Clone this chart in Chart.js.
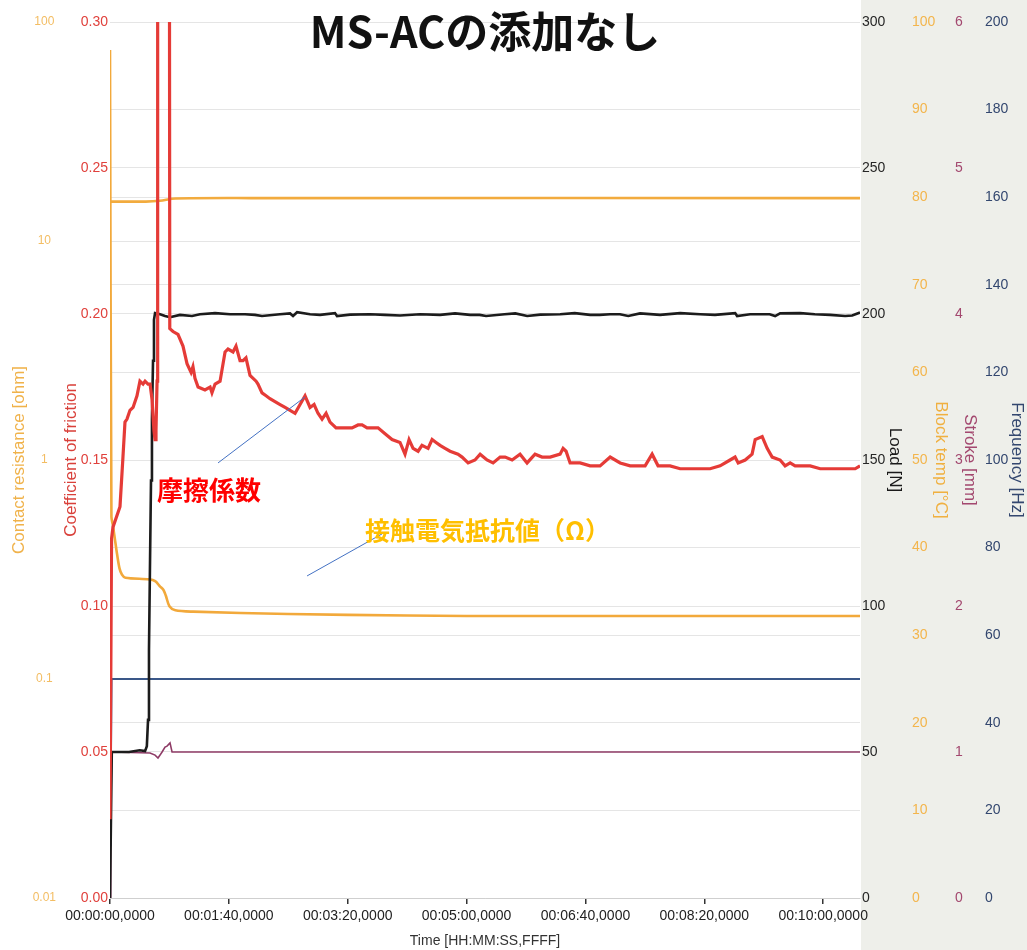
<!DOCTYPE html>
<html>
<head>
<meta charset="utf-8">
<script src="https://cdn.jsdelivr.net/npm/chart.js@4.4.1/dist/chart.umd.min.js"></script>
<style>
  html, body { margin: 0; padding: 0; background: #ffffff; }
  #wrap { position: relative; width: 1027px; height: 950px; }
  canvas { display: block; }
</style>
</head>
<body>
<div id="wrap"><canvas id="chart" width="1027" height="950"></canvas></div>
<script>
// ---- time axis (seconds) ----
const timeTicks = [0, 100, 200, 300, 400, 500, 600];
const timeMax = 631;

// ---- axis tick values ----
const frictionTicks = [0, 0.05, 0.10, 0.15, 0.20, 0.25, 0.30];
const resistanceTicks = [0.01, 0.1, 1, 10, 100];
const loadTicks = [0, 50, 100, 150, 200, 250, 300];
const tempTicks = [0, 10, 20, 30, 40, 50, 60, 70, 80, 90, 100];
const strokeTicks = [0, 1, 2, 3, 4, 5, 6];
const freqTicks = [0, 20, 40, 60, 80, 100, 120, 140, 160, 180, 200];

// ---- measured series: [time s, value] ----
const friction = [
  [0, 0.027], [1.3, 0.123], [2.5, 0.127], [5.0, 0.130], [8.4, 0.134], [10.9, 0.151],
  [12.6, 0.163], [14.3, 0.164], [16.8, 0.167], [19.4, 0.168], [22.7, 0.172], [25.2, 0.177],
  [27.8, 0.176], [29.5, 0.177], [32.0, 0.176], [33.7, 0.176], [35.3, 0.171], [37.0, 0.160],
  [37.9, 0.157], [38.7, 0.160], [39.6, 0.177], [40.1, 0.60], [49.4, 0.60], [50.3, 0.195],
  [53.0, 0.194], [57.2, 0.193], [61.4, 0.189], [64.8, 0.183], [68.2, 0.180], [69.8, 0.182],
  [71.5, 0.178], [74.1, 0.175], [79.9, 0.174], [84.2, 0.175], [85.8, 0.173], [88.4, 0.176],
  [92.6, 0.177], [96.8, 0.187], [99.3, 0.188], [103.5, 0.187], [106.0, 0.189], [109.4, 0.184],
  [111.9, 0.184], [114.4, 0.185], [117.8, 0.179], [122.9, 0.177], [124.5, 0.176], [127.9, 0.173],
  [131.3, 0.172], [134.6, 0.171], [138.8, 0.170], [143.1, 0.169], [147.3, 0.168], [151.5, 0.167],
  [155.7, 0.166], [159.9, 0.169], [164.1, 0.172], [168.3, 0.168], [171.7, 0.169], [175.0, 0.166],
  [178.4, 0.164], [181.8, 0.166], [185.1, 0.163], [190.2, 0.161], [193.5, 0.161], [197.8, 0.161],
  [203.6, 0.161], [208.7, 0.162], [212.1, 0.162], [216.3, 0.161], [220.5, 0.161], [225.5, 0.161],
  [231.4, 0.159], [237.3, 0.157], [244.0, 0.156], [248.2, 0.152], [251.6, 0.157], [255.0, 0.154],
  [259.2, 0.153], [262.5, 0.155], [267.6, 0.154], [271.0, 0.157], [274.3, 0.156], [277.7, 0.155],
  [281.9, 0.154], [286.1, 0.153], [292.8, 0.152], [296.2, 0.151], [301.3, 0.149], [307.1, 0.150],
  [311.4, 0.152], [317.2, 0.150], [322.3, 0.149], [328.2, 0.151], [332.4, 0.151], [338.3, 0.150],
  [345.0, 0.152], [350.9, 0.149], [357.6, 0.152], [363.5, 0.151], [370.3, 0.151], [378.7, 0.152],
  [381.2, 0.154], [383.7, 0.153], [387.1, 0.149], [395.5, 0.149], [403.9, 0.148], [412.3, 0.148],
  [420.8, 0.151], [429.2, 0.149], [437.6, 0.148], [450.2, 0.148], [456.1, 0.152], [461.1, 0.148],
  [471.2, 0.148], [479.7, 0.147], [488.1, 0.147], [496.5, 0.147], [504.9, 0.147], [513.3, 0.148],
  [521.7, 0.150], [525.9, 0.151], [528.5, 0.149], [534.4, 0.150], [540.2, 0.152], [542.8, 0.157],
  [548.7, 0.158], [552.9, 0.154], [557.1, 0.151], [563.8, 0.150], [568.0, 0.148], [572.2, 0.149],
  [576.4, 0.148], [582.3, 0.148], [589.1, 0.148], [597.5, 0.147], [601.7, 0.147], [610.1, 0.147],
  [618.5, 0.147], [626.9, 0.147], [631.0, 0.148]
];

const load = [
  [0, 0], [1.5, 50], [16, 50], [25, 50.6], [29.5, 50.3], [31, 52], [32, 61], [32.8, 85],
  [33.7, 116], [34.5, 143], [35.3, 164], [36.2, 184], [37, 198], [37.9, 200.3], [42.1, 199.9],
  [46.3, 199.3], [50.5, 198.9], [58.9, 199.7], [69, 199.3], [75.7, 199.9], [88.4, 200.3],
  [101, 199.9], [113.6, 199.9], [122, 199.7], [127.9, 199.3], [143, 199.9], [151.5, 200.2],
  [154, 199.3], [157.4, 200.6], [168.3, 199.9], [176.7, 199.7], [189.3, 200.3], [191, 199.3],
  [202, 199.8], [218.8, 199.9], [231.4, 199.7], [244, 199.5], [260.9, 199.9], [277.7, 199.7],
  [290.3, 200.2], [303, 199.7], [311, 199.7], [316.4, 199.3], [332, 199.9], [341, 200.2],
  [351, 199.3], [362, 199.8], [378.7, 199.9], [391, 200.3], [404, 199.7], [412, 199.7],
  [420.8, 199.9], [429, 199.9], [436, 199.3], [446, 200.2], [462.8, 199.7], [479.7, 200.3],
  [496.5, 199.9], [509, 199.7], [526, 200.3], [527.6, 199.3], [538.6, 199.9], [555, 199.9],
  [559.6, 199.3], [563.8, 200.2], [580.6, 200.3], [593, 199.9], [605.9, 199.7], [618.5, 199.3],
  [624.4, 199.5], [631, 200.5]
];

const resistance = [
  [0, 74.5], [1.2, 0.55], [2.5, 0.50], [4, 0.44], [6, 0.37], [8, 0.32], [10, 0.30], [13, 0.29],
  [33, 0.285], [38, 0.28], [42, 0.265], [45, 0.255], [47, 0.24], [50, 0.215], [55, 0.206],
  [70, 0.203], [150, 0.198], [250, 0.195], [300, 0.194], [631, 0.194]
];

const blockTemp = [
  [0, 79.5], [30, 79.5], [42, 79.6], [55, 79.85], [120, 79.9], [631, 79.9]
];

const frequency = [
  [0, 12], [0.7, 25], [1.4, 50], [631, 50]
];

const stroke = [
  [0, 0], [0.6, 0.4], [1.3, 1.0], [33.7, 0.993], [37.9, 0.979], [40.4, 0.959], [42.1, 0.979],
  [43.8, 1.0], [46.3, 1.034], [48, 1.04], [50.5, 1.062], [52.2, 1.0], [631, 1.0]
];

// ---- callouts, placed in (time, friction) coordinates ----
const frictionNote = { text: '摩擦係数', t: 39.5, v: 0.1397, from: [90.9, 0.149], to: [164.1, 0.1716] };
const resistanceNote = { text: '接触電気抵抗値（Ω）', t: 214.6, v: 0.126, from: [228.9, 0.1247], to: [165.8, 0.1103] };

const chartTitle = 'MS-ACの添加なし';

// ---- helpers ----
const FONT = '"Liberation Sans", Arial, sans-serif';
const TITLE_FONT = '"Liberation Sans Narrow", "Arial Narrow", "Liberation Sans", Arial, sans-serif';
const CJK = '"Noto Sans CJK JP", "Noto Sans", sans-serif';
const pts = arr => arr.map(([x, y]) => ({ x, y }));
const pad2 = n => String(n).padStart(2, '0');
function fmtTime(s) {
  const h = Math.floor(s / 3600), m = Math.floor((s % 3600) / 60), sec = Math.floor(s % 60);
  return pad2(h) + ':' + pad2(m) + ':' + pad2(sec) + ',0000';
}
const fixedTicks = list => scale => { scale.ticks = list.map(v => ({ value: v })); };
const fixWidth = w => scale => { scale.width = w; };

const COL = {
  friction: '#e53b37', load: '#1c1c1c', resistance: '#f2a93b', temp: '#f2ab3e',
  freq: '#3a5788', stroke: '#8e3b66'
};

function yAxis(opts) {
  return {
    type: opts.type || 'linear',
    position: opts.position,
    weight: opts.weight,
    min: opts.min, max: opts.max,
    afterBuildTicks: fixedTicks(opts.ticks),
    afterFit: fixWidth(opts.width),
    border: { display: false },
    grid: {
      drawOnChartArea: !!opts.grid, drawTicks: false,
      color: '#e5e5e5', lineWidth: 1
    },
    ticks: {
      color: opts.tickColor, padding: opts.pad, crossAlign: opts.crossAlign || 'near',
      font: { family: FONT, size: opts.tickSize || 14 },
      callback: opts.fmt, autoSkip: false
    },
    title: {
      display: true, text: opts.title, color: opts.titleColor,
      font: { family: TITLE_FONT, size: 17 }, padding: { top: opts.titlePad, bottom: 0 }
    }
  };
}

// page backdrop: white plot side, pale panel behind the right-hand axes
const backdrop = {
  id: 'backdrop',
  beforeDraw(chart) {
    const { ctx, chartArea, width, height } = chart;
    ctx.save();
    ctx.fillStyle = '#ffffff';
    ctx.fillRect(0, 0, width, height);
    ctx.fillStyle = '#eeefea';
    ctx.fillRect(chartArea.right + 1, 0, width - chartArea.right - 1, height);
    ctx.restore();
  }
};

// heading and the two callouts with their leader lines
const callouts = {
  id: 'callouts',
  afterDraw(chart) {
    const { ctx, chartArea } = chart;
    const sx = chart.scales.x, sy = chart.scales.cof;
    const P = (t, v) => [sx.getPixelForValue(t), sy.getPixelForValue(v)];
    ctx.save();
    ctx.strokeStyle = '#4472c4';
    ctx.lineWidth = 1;
    [frictionNote, resistanceNote].forEach(n => {
      const a = P(n.from[0], n.from[1]), b = P(n.to[0], n.to[1]);
      ctx.beginPath(); ctx.moveTo(a[0], a[1]); ctx.lineTo(b[0], b[1]); ctx.stroke();
    });
    ctx.textBaseline = 'middle';
    ctx.textAlign = 'left';
    ctx.font = 'bold 26px ' + CJK;
    ctx.fillStyle = '#ff0000';
    let p = P(frictionNote.t, frictionNote.v);
    ctx.fillText(frictionNote.text, p[0], p[1]);
    ctx.font = 'bold 25px ' + CJK;
    ctx.fillStyle = '#ffbf00';
    p = P(resistanceNote.t, resistanceNote.v);
    ctx.fillText(resistanceNote.text, p[0], p[1]);

    ctx.font = 'bold 43px ' + CJK;
    ctx.fillStyle = '#111111';
    ctx.textAlign = 'center';
    ctx.fillText(chartTitle, (chartArea.left + chartArea.right) / 2, 32);
    ctx.restore();
  }
};

const lineDs = (label, data, axis, color, width, extra) => Object.assign({
  label, data: pts(data), yAxisID: axis, borderColor: color, backgroundColor: color,
  borderWidth: width, pointRadius: 0, fill: false, tension: 0
}, extra || {});

new Chart(document.getElementById('chart'), {
  type: 'line',
  data: {
    datasets: [
      lineDs('Coefficient of friction', friction, 'cof', COL.friction, 3.2),
      lineDs('Load', load, 'load', COL.load, 2.6),
      lineDs('Contact resistance', resistance, 'cr', COL.resistance, 2.6, { tension: 0.3 }),
      lineDs('Block temp', blockTemp, 'temp', COL.temp, 2.6, { tension: 0.3 }),
      lineDs('Frequency', frequency, 'freq', COL.freq, 1.8),
      lineDs('Stroke', stroke, 'stroke', COL.stroke, 1.6)
    ]
  },
  options: {
    responsive: false,
    animation: false,
    devicePixelRatio: 1,
    layout: { padding: { top: 22, left: 0, right: 0, bottom: 0 } },
    plugins: { legend: { display: false }, tooltip: { enabled: false } },
    scales: {
      x: {
        type: 'linear', position: 'bottom', min: 0, max: timeMax,
        afterBuildTicks: fixedTicks(timeTicks),
        afterFit: s => { s.height = 52; },
        border: { display: true, color: '#cfcfcf', width: 1 },
        grid: { drawOnChartArea: false, drawTicks: true, tickLength: 6, color: '#333333', lineWidth: 1.5 },
        ticks: {
          color: '#222222', padding: 4, maxRotation: 0, autoSkip: false,
          font: { family: FONT, size: 14 }, callback: v => fmtTime(v)
        },
        title: {
          display: true, text: 'Time [HH:MM:SS,FFFF]', color: '#333333',
          font: { family: FONT, size: 14 }, padding: { top: 0, bottom: 0 }
        }
      },
      cof: yAxis({
        position: 'left', weight: 0, min: 0, max: 0.30, ticks: frictionTicks, width: 52,
        grid: true, tickColor: '#e0413c', pad: 2, fmt: v => v.toFixed(2),
        title: 'Coefficient of friction', titleColor: '#d9403a', titlePad: 3
      }),
      cr: yAxis({
        type: 'logarithmic', position: 'left', weight: 1, min: 0.01, max: 100,
        ticks: resistanceTicks, width: 58, grid: true, tickColor: '#f3bd63', pad: 2,
        crossAlign: 'center', tickSize: 12,
        fmt: v => (v < 1 ? String(v) : String(Math.round(v))),
        title: 'Contact resistance [ohm]', titleColor: '#f0b24a', titlePad: 9
      }),
      load: yAxis({
        position: 'right', weight: 0, min: 0, max: 300, ticks: loadTicks, width: 46,
        tickColor: '#262626', pad: 2, fmt: v => String(v),
        title: 'Load [N]', titleColor: '#1a1a1a', titlePad: 1
      }),
      temp: yAxis({
        position: 'right', weight: 1, min: 0, max: 100, ticks: tempTicks, width: 45,
        grid: true, tickColor: '#f3b54c', pad: 6, fmt: v => String(v),
        title: 'Block temp [°C]', titleColor: '#f0b040', titlePad: 0
      }),
      stroke: yAxis({
        position: 'right', weight: 2, min: 0, max: 6, ticks: strokeTicks, width: 29,
        tickColor: '#a3486f', pad: 4, fmt: v => String(v),
        title: 'Stroke [mm]', titleColor: '#a3486f', titlePad: 0
      }),
      freq: yAxis({
        position: 'right', weight: 3, min: 0, max: 200, ticks: freqTicks, width: 47,
        tickColor: '#33476f', pad: 5, fmt: v => String(v),
        title: 'Frequency [Hz]', titleColor: '#33476f', titlePad: 0
      })
    }
  },
  plugins: [backdrop, callouts]
});
</script>
</body>
</html>
